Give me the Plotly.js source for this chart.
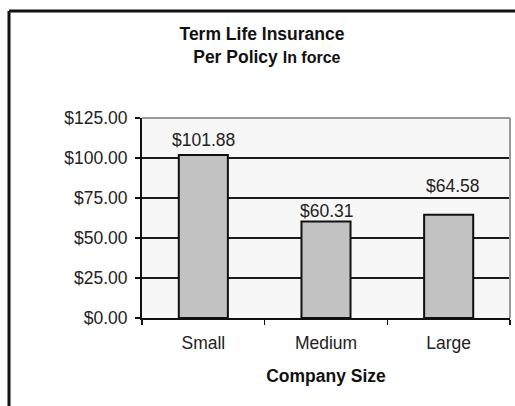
<!DOCTYPE html>
<html>
<head>
<meta charset="utf-8">
<script src="https://cdn.plot.ly/plotly-3.0.1.min.js"></script>
<style>
html, body { margin: 0; padding: 0; background: #fff; }
#chart { width: 515px; height: 406px; }
</style>
</head>
<body>
<div id="chart"></div>
<script>
var categories = ["Small", "Medium", "Large"];
var values = [101.88, 60.31, 64.58];
var labels = ["$101.88", "$60.31", "$64.58"];
var yTicks = [0, 25, 50, 75, 100, 125];

var labelShift = [15, 11, 29];
var labelXShift = [0, 1, 4];

var font = "Liberation Sans, Arial, Helvetica, sans-serif";

var annotations = categories.map(function (c, i) {
  return {
    x: c, y: values[i], xref: "x", yref: "y",
    text: labels[i], showarrow: false,
    yanchor: "middle", yshift: labelShift[i], xshift: labelXShift[i],
    font: { family: font, size: 17.5, color: "#222" }
  };
});

var trace = {
  type: "bar",
  x: categories,
  y: values,
  width: 0.4,
  marker: { color: "#c2c2c2", line: { color: "#111", width: 2 } },
  hoverinfo: "none"
};

var layout = {
  width: 515, height: 406,
  margin: { l: 142, r: 5, t: 118, b: 88 },
  paper_bgcolor: "#ffffff",
  plot_bgcolor: "#f7f7f7",
  showlegend: false,
  font: { family: font, size: 17, color: "#222" },
  title: {
    text: "<b>Term Life Insurance</b><br><b>  Per Policy </b><b><span style='font-size:16px'>In force</span></b>",
    font: { family: font, size: 17.5, color: "#111" },
    x: 262 / 515, xref: "container", xanchor: "center",
    y: 1 - 40 / 406, yref: "container", yanchor: "top"
  },
  xaxis: {
    type: "category",
    showgrid: false,
    showline: true, linecolor: "#111", linewidth: 2,
    ticks: "outside", tickson: "boundaries", ticklen: 5, tickwidth: 1.5, tickcolor: "#111",
    ticklabelstandoff: 8,
    tickfont: { family: font, size: 17.5, color: "#222" },
    title: { text: "<b>Company Size</b>", font: { family: font, size: 17.5, color: "#111" }, standoff: 18 },
    fixedrange: true
  },
  yaxis: {
    range: [0, 125],
    tickvals: yTicks,
    tickformat: "$.2f",
    showgrid: true, gridcolor: "#1a1a1a", gridwidth: 2,
    zeroline: false,
    showline: true, linecolor: "#111", linewidth: 2,
    ticks: "outside", ticklen: 5, tickwidth: 1.5, tickcolor: "#111",
    ticklabelstandoff: 4,
    tickfont: { family: font, size: 17.5, color: "#222" },
    fixedrange: true
  },
  annotations: annotations,
  shapes: [
    { type: "line", xref: "paper", yref: "paper", x0: 0, x1: 1, y0: 1, y1: 1, line: { color: "#999", width: 2 }, layer: "above" },
    { type: "line", xref: "paper", yref: "paper", x0: 1, x1: 1, y0: 0, y1: 1, line: { color: "#999", width: 2 }, layer: "above" },
    { type: "line", xref: "paper", yref: "paper", x0: (9 - 142) / 368, x1: (9 - 142) / 368, y0: -1, y1: (318 - 11) / 200, line: { color: "#111", width: 3 } },
    { type: "line", xref: "paper", yref: "paper", x0: (9 - 142) / 368, x1: 1.1, y0: (318 - 11) / 200, y1: (318 - 11) / 200, line: { color: "#111", width: 3 } }
  ]
};

Plotly.newPlot("chart", [trace], layout, { displayModeBar: false, staticPlot: true });
</script>
</body>
</html>
